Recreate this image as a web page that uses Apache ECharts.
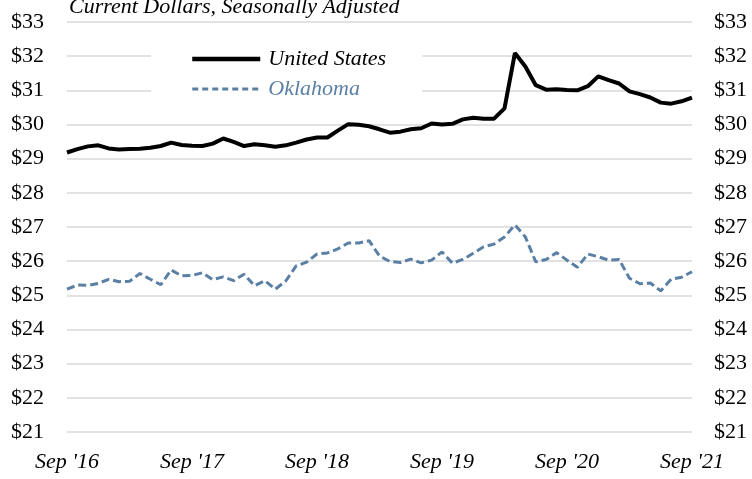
<!DOCTYPE html>
<html lang="en">
<head>
    <meta charset="UTF-8">
    <title>Average Hourly Earnings</title>
    <style>
        html, body { margin: 0; padding: 0; background: #fff; }
        #chart { width: 752px; height: 479px; }
    </style>
    <script type="text/javascript" src="https://cdn.jsdelivr.net/npm/echarts@6/dist/echarts.min.js"></script>
</head>
<body>
<div id="chart"></div>
<script>
    // months Sep 2016 .. Sep 2021
    var monthNames = ['Sep', 'Oct', 'Nov', 'Dec', 'Jan', 'Feb', 'Mar', 'Apr', 'May', 'Jun', 'Jul', 'Aug'];
    var startYear = 16;
    var months = [];
    for (var i = 0; i <= 60; i++) {
        var yr = startYear + Math.floor((i + 8) / 12);
        months.push(monthNames[i % 12] + " '" + yr);
    }

    var unitedStates = [
        29.18, 29.28, 29.36, 29.39, 29.30, 29.27, 29.28, 29.29, 29.32, 29.37,
        29.47, 29.40, 29.38, 29.37, 29.44, 29.59, 29.49, 29.37, 29.42, 29.39,
        29.35, 29.39, 29.47, 29.56, 29.62, 29.62, 29.82, 30.01, 29.99, 29.95,
        29.86, 29.76, 29.79, 29.86, 29.89, 30.03, 30.00, 30.02, 30.15, 30.20,
        30.17, 30.17, 30.47, 32.09, 31.70, 31.15, 31.02, 31.03, 31.01, 31.00,
        31.12, 31.41, 31.30, 31.20, 30.97, 30.89, 30.79, 30.64, 30.61, 30.68,
        30.79
    ];
    var oklahoma = [
        25.18, 25.30, 25.29, 25.35, 25.47, 25.40, 25.41, 25.64, 25.47, 25.31,
        25.74, 25.57, 25.58, 25.66, 25.46, 25.54, 25.43, 25.62, 25.28, 25.43,
        25.18, 25.42, 25.86, 25.97, 26.21, 26.24, 26.36, 26.53, 26.53, 26.60,
        26.15, 25.99, 25.96, 26.06, 25.95, 26.03, 26.27, 25.94, 26.05, 26.23,
        26.42, 26.50, 26.71, 27.06, 26.71, 25.98, 26.05, 26.25, 26.03, 25.82,
        26.21, 26.13, 26.03, 26.05, 25.50, 25.34, 25.36, 25.13, 25.47, 25.53,
        25.69
    ];

    var font = 'Liberation Serif';
    var okColor = '#5a7fa4';

    var chart = echarts.init(document.getElementById('chart'));
    var option = {
        animation: false,
        title: {
            text: 'Current Dollars, Seasonally Adjusted',
            left: 64,
            top: -9,
            textStyle: { fontFamily: font, fontStyle: 'italic', fontWeight: 'normal', fontSize: 22, color: '#000' }
        },
        legend: {
            orient: 'vertical',
            left: 151,
            top: 44,
            padding: [4, 36, 4, 39],
            itemGap: 8,
            itemWidth: 68,
            itemHeight: 14,
            backgroundColor: '#fff',
            itemStyle: { opacity: 0 },
            textStyle: { fontFamily: font, fontStyle: 'italic', fontSize: 22, color: '#000', padding: [0, 0, 0, 3] },
            data: [
                { name: 'United States', lineStyle: { width: 4.5 } },
                { name: 'Oklahoma', lineStyle: { width: 3, type: [6, 4] }, textStyle: { color: okColor } }
            ]
        },
        grid: { left: 67, right: 60, top: 22, bottom: 47 },
        xAxis: {
            type: 'category',
            data: months,
            boundaryGap: false,
            axisLine: { show: false },
            axisTick: { show: false },
            axisLabel: {
                interval: 11,
                margin: 19,
                fontFamily: font, fontStyle: 'italic', fontSize: 22, color: '#000'
            }
        },
        yAxis: [{
            type: 'value',
            min: 21, max: 33, interval: 1,
            axisLabel: {
                margin: 23,
                formatter: '${value}',
                fontFamily: font, fontSize: 22, color: '#000'
            },
            splitLine: { lineStyle: { color: '#d9d9d9', width: 1.5 } }
        }, {
            type: 'value',
            position: 'right',
            min: 21, max: 33, interval: 1,
            axisLabel: {
                margin: 22,
                formatter: '${value}',
                fontFamily: font, fontSize: 22, color: '#000'
            },
            splitLine: { show: false }
        }],
        series: [{
            name: 'United States',
            type: 'line',
            data: unitedStates,
            symbol: 'none',
            color: '#000',
            lineStyle: { color: '#000', width: 4 }
        }, {
            name: 'Oklahoma',
            type: 'line',
            data: oklahoma,
            symbol: 'none',
            color: okColor,
            lineStyle: { color: okColor, width: 3, type: [8, 4] }
        }]
    };
    chart.setOption(option);
</script>
</body>
</html>
